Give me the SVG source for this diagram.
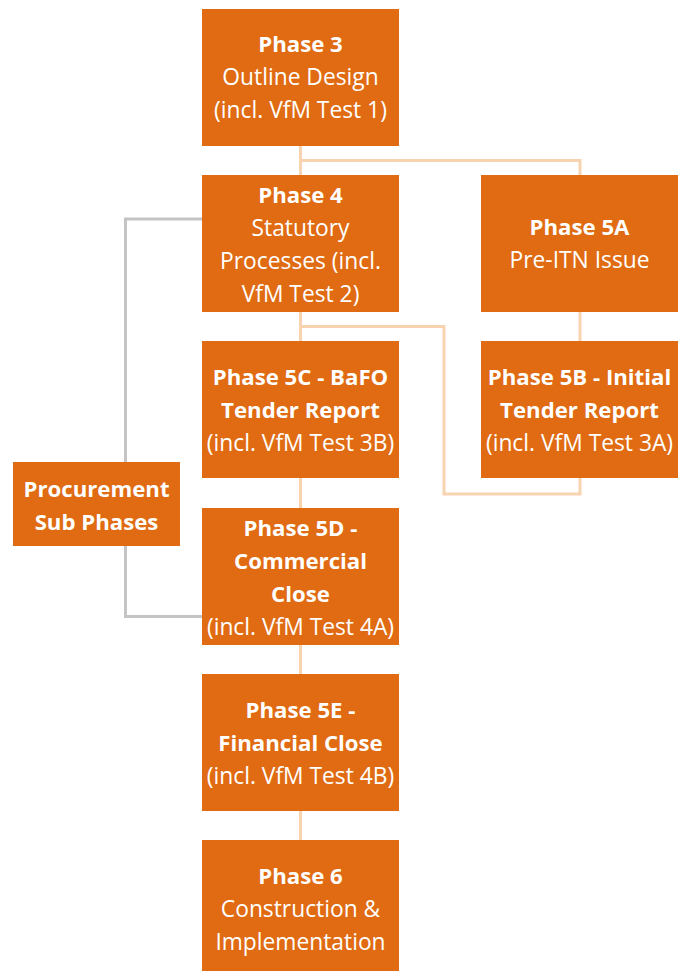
<svg xmlns="http://www.w3.org/2000/svg" width="685" height="971" viewBox="0 0 685 971">
<style>
.box{fill:#e06b12}
.t{font-family:"Open Sans","Noto Sans",sans-serif;font-size:22.8px;fill:#ffffff;text-anchor:middle}
.b{font-weight:bold;font-size:22.2px}
.lo{fill:none;stroke:#f8d3b0;stroke-width:3}
.lg{fill:none;stroke:#c4c4c4;stroke-width:3}
</style>
<rect width="685" height="971" fill="#ffffff"/>
<g id="connectors">
<path class="lo" d="M300.5 146V175M300.5 160.5H580V175"/>
<path class="lo" d="M300.5 312V341M300.5 326.5H444V494H580V478"/>
<path class="lo" d="M580 312V341"/>
<path class="lo" d="M300.5 478V508M300.5 645V674M300.5 811V840"/>
<path class="lg" d="M202 219H125.5V462M125.5 546V616.5H202"/>
</g>
<g id="phase3"><rect class="box" x="202" y="9" width="197" height="137"/>
<text class="t b" x="300.5" y="52">Phase 3</text><text class="t" x="300.5" y="85">Outline Design</text><text class="t" x="300.5" y="118">(incl. VfM Test 1)</text></g>
<g id="phase4"><rect class="box" x="202" y="175" width="197" height="137"/>
<text class="t b" x="300.5" y="203">Phase 4</text><text class="t" x="300.5" y="236">Statutory</text><text class="t" x="300.5" y="269">Processes (incl.</text><text class="t" x="300.5" y="302">VfM Test 2)</text></g>
<g id="phase5a"><rect class="box" x="481" y="175" width="197" height="137"/>
<text class="t b" x="579.5" y="235">Phase 5A</text><text class="t" x="579.5" y="268">Pre-ITN Issue</text></g>
<g id="phase5c"><rect class="box" x="202" y="341" width="197" height="137"/>
<text class="t b" x="300.5" y="385">Phase 5C - BaFO</text><text class="t b" x="300.5" y="418">Tender Report</text><text class="t" x="300.5" y="451">(incl. VfM Test 3B)</text></g>
<g id="phase5b"><rect class="box" x="481" y="341" width="197" height="137"/>
<text class="t b" x="579.5" y="385">Phase 5B - Initial</text><text class="t b" x="579.5" y="418">Tender Report</text><text class="t" x="579.5" y="451">(incl. VfM Test 3A)</text></g>
<g id="procurement"><rect class="box" x="13" y="462" width="167" height="84"/>
<text class="t b" x="96.5" y="497">Procurement</text><text class="t b" x="96.5" y="530">Sub Phases</text></g>
<g id="phase5d"><rect class="box" x="202" y="508" width="197" height="137"/>
<text class="t b" x="300.5" y="536">Phase 5D -</text><text class="t b" x="300.5" y="569">Commercial</text><text class="t b" x="300.5" y="602">Close</text><text class="t" x="300.5" y="635">(incl. VfM Test 4A)</text></g>
<g id="phase5e"><rect class="box" x="202" y="674" width="197" height="137"/>
<text class="t b" x="300.5" y="718">Phase 5E -</text><text class="t b" x="300.5" y="751">Financial Close</text><text class="t" x="300.5" y="784">(incl. VfM Test 4B)</text></g>
<g id="phase6"><rect class="box" x="202" y="840" width="197" height="137"/>
<text class="t b" x="300.5" y="884">Phase 6</text><text class="t" x="300.5" y="917">Construction &amp;</text><text class="t" x="300.5" y="950">Implementation</text></g>
</svg>
